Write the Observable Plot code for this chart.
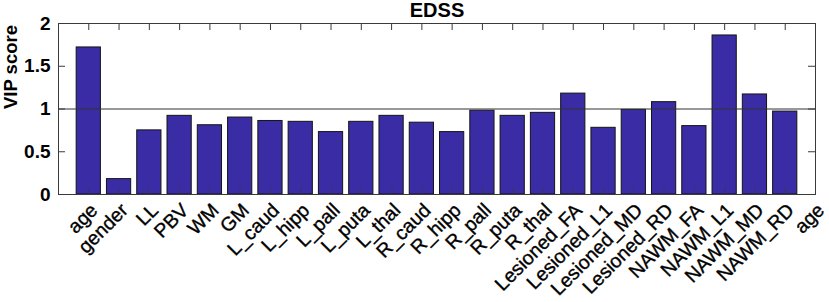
<!DOCTYPE html>
<html>
<head>
<meta charset="utf-8">
<script src="https://cdn.jsdelivr.net/npm/d3@7"></script>
<script src="https://cdn.jsdelivr.net/npm/@observablehq/plot@0.6"></script>
<style>
  html, body { margin: 0; padding: 0; background: #fff; }
  svg { display: block; }
</style>
</head>
<body>
<div id="chart"></div>
<script>
const title = "EDSS";
const yLabel = "VIP score";
const categories = ["age","gender","LL","PBV","WM","GM","L_caud","L_hipp","L_pall","L_puta","L_thal","R_caud","R_hipp","R_pall","R_puta","R_thal","Lesioned_FA","Lesioned_L1","Lesioned_MD","Lesioned_RD","NAWM_FA","NAWM_L1","NAWM_MD","NAWM_RD"];
const vipScores = [1.72,0.18,0.75,0.92,0.81,0.90,0.86,0.85,0.73,0.85,0.92,0.84,0.73,0.98,0.92,0.955,1.18,0.78,0.99,1.08,0.80,1.86,1.17,0.97];
const tickLabels = ["age","gender","LL","PBV","WM","GM","L_caud","L_hipp","L_pall","L_puta","L_thal","R_caud","R_hipp","R_pall","R_puta","R_thal","Lesioned_FA","Lesioned_L1","Lesioned_MD","Lesioned_RD","NAWM_FA","NAWM_L1","NAWM_MD","NAWM_RD","age"];
const yTicks = [0, 0.5, 1, 1.5, 2];
const threshold = [1];

const bars = categories.map((c, i) => ({pos: i + 1, name: c, value: vipScores[i]}));
const labels = tickLabels.map((t, i) => ({pos: i + 1, label: t}));
const xTickPos = d3.range(1, tickLabels.length);

const W = 829, H = 302;
const mL = 58, mR = 14, mT = 23, mB = 108;
const innerW = W - mL - mR, innerH = H - mT - mB;
const tickLen = 7;
const axisColor = "#3a3a3a";

const chart = Plot.plot({
  width: W,
  height: H,
  marginLeft: mL,
  marginRight: mR,
  marginTop: mT,
  marginBottom: mB,
  style: {fontFamily: "'Liberation Sans', Arial, Helvetica, sans-serif", background: "#fff", color: "#000"},
  x: {type: "linear", domain: [0, tickLabels.length], axis: null},
  y: {domain: [0, 2], axis: null},
  marks: [
    Plot.rectY(bars, {
      x1: d => d.pos - 0.4,
      x2: d => d.pos + 0.4,
      y1: 0,
      y2: "value",
      fill: "#3a2ca5",
      stroke: "#141414",
      strokeWidth: 1
    }),
    // inward ticks (bottom / top)
    Plot.ruleX(xTickPos, {x: d => d, insetTop: innerH - tickLen, stroke: axisColor, strokeOpacity: 0.6}),
    Plot.ruleX(xTickPos, {x: d => d, insetBottom: innerH - tickLen, stroke: axisColor}),
    // inward ticks (left / right)
    Plot.ruleY(yTicks, {y: d => d, insetRight: innerW - tickLen, stroke: axisColor}),
    Plot.ruleY(yTicks, {y: d => d, insetLeft: innerW - tickLen, stroke: axisColor}),
    // reference line at 1
    Plot.ruleY(threshold, {stroke: "#333", strokeWidth: 1}),
    Plot.frame({stroke: axisColor, strokeWidth: 1}),
    // y tick labels
    Plot.text(yTicks, {
      y: d => d, text: d => String(d), frameAnchor: "left", textAnchor: "end",
      dx: -8, fontSize: 19, fontWeight: "bold", fill: "#000"
    }),
    // y label
    Plot.text([yLabel], {
      frameAnchor: "left", rotate: -90, dx: -47, fontSize: 18.5, fontWeight: "bold", fill: "#000"
    }),
    // x tick labels
    Plot.text(labels, {
      x: "pos", text: "label", frameAnchor: "bottom", rotate: -45, textAnchor: "end",
      dx: 10, dy: 17, fontSize: 19.5, fill: "#000", stroke: "#000", strokeWidth: 0.35
    }),
    // title
    Plot.text([title], {
      frameAnchor: "top", lineAnchor: "bottom", dy: -7, fontSize: 20, fontWeight: "bold", fill: "#000"
    })
  ]
});

document.getElementById("chart").appendChild(chart);
</script>
</body>
</html>
